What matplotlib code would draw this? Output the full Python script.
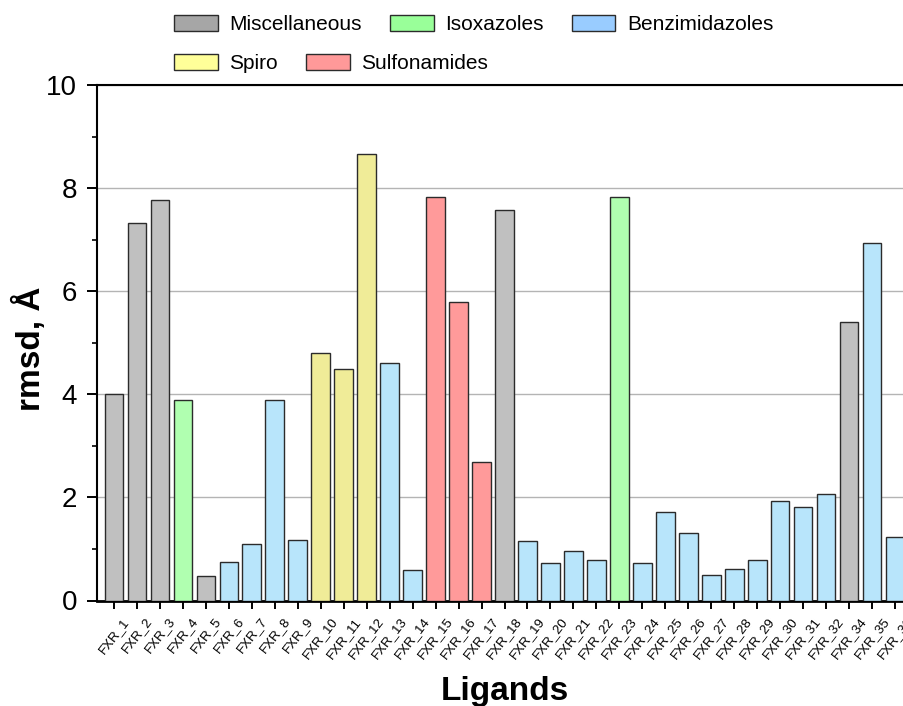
import numpy as np
import matplotlib
matplotlib.use('Agg')
import matplotlib.pyplot as plt
from matplotlib.patches import Patch
from matplotlib.ticker import MultipleLocator

plt.rcParams['font.family'] = ['Liberation Sans', 'DejaVu Sans']

ligands = ['FXR_1', 'FXR_2', 'FXR_3', 'FXR_4', 'FXR_5', 'FXR_6', 'FXR_7', 'FXR_8',
           'FXR_9', 'FXR_10', 'FXR_11', 'FXR_12', 'FXR_13', 'FXR_14', 'FXR_15',
           'FXR_16', 'FXR_17', 'FXR_18', 'FXR_19', 'FXR_20', 'FXR_21', 'FXR_22',
           'FXR_23', 'FXR_24', 'FXR_25', 'FXR_26', 'FXR_27', 'FXR_28', 'FXR_29',
           'FXR_30', 'FXR_31', 'FXR_32', 'FXR_34', 'FXR_35', 'FXR_36']
rmsd = [4.00, 7.32, 7.76, 3.88, 0.47, 0.74, 1.10, 3.88, 1.18, 4.81, 4.50, 8.67,
        4.61, 0.60, 7.82, 5.79, 2.69, 7.57, 1.16, 0.72, 0.96, 0.78, 7.82, 0.72,
        1.72, 1.31, 0.49, 0.61, 0.78, 1.93, 1.81, 2.06, 5.41, 6.93, 1.24]
group = ['M', 'M', 'M', 'I', 'M', 'B', 'B', 'B', 'B', 'S', 'S', 'S', 'B', 'B',
         'Su', 'Su', 'Su', 'M', 'B', 'B', 'B', 'B', 'I', 'B', 'B', 'B', 'B', 'B',
         'B', 'B', 'B', 'B', 'M', 'B', 'B']

group_names = {'M': 'Miscellaneous', 'I': 'Isoxazoles', 'B': 'Benzimidazoles',
               'S': 'Spiro', 'Su': 'Sulfonamides'}
bar_colors = {'M': '#c0c0c0', 'I': '#b0ffb0', 'B': '#b8e5fb', 'S': '#f0ec98', 'Su': '#ff9a9a'}
legend_colors = {'M': '#a6a6a6', 'I': '#99ff99', 'B': '#99ccff', 'S': '#ffff99', 'Su': '#ff9999'}

fig = plt.figure(figsize=(9.04, 7.06), dpi=100)
W, H = 904.0, 706.0
# axes runs past the right edge of the picture, like the original crop
ax = fig.add_axes([97 / W, 1 - 600.5 / H, 815 / W, 515.5 / H])

x = np.arange(len(ligands))
ax.bar(x, rmsd, width=0.8, color=[bar_colors[g] for g in group],
       edgecolor='#2b2b2b', linewidth=1.0, zorder=3)

ax.set_xlim(-0.73, len(ligands) - 1 + 0.73)
ax.set_ylim(0, 10)
ax.yaxis.set_major_locator(MultipleLocator(2))
ax.yaxis.set_minor_locator(MultipleLocator(1))
ax.set_xticks(x)
ax.set_xticklabels(ligands, rotation=52, ha='center', va='top', fontsize=9.5)

ax.grid(axis='y', color='#b4b4b4', linewidth=1.0, zorder=0)
ax.set_axisbelow(True)

ax.tick_params(axis='y', which='major', direction='out', length=7.2, width=1.4,
               labelsize=20, pad=7)
ax.tick_params(axis='y', which='minor', direction='out', length=3.6, width=1.2)
ax.tick_params(axis='x', which='major', direction='out', length=5.8, width=1.4, pad=5)

ax.spines['left'].set_linewidth(1.5)
ax.spines['bottom'].set_linewidth(2.0)
ax.spines['top'].set_linewidth(1.5)
ax.spines['right'].set_linewidth(1.5)

ax.set_ylabel('rmsd, Å', fontsize=24, fontweight='bold', va='center')
ax.yaxis.set_label_coords(-0.0823, 0.488)
ax.set_xlabel('Ligands', fontsize=24, fontweight='bold', va='baseline')
ax.xaxis.set_label_coords(0.5, -0.193)

row1 = ['M', 'I', 'B']
row2 = ['S', 'Su']
leg_kw = dict(frameon=False, fontsize=15, handlelength=2.1, handleheight=0.82,
              handletextpad=0.55, columnspacing=1.35, borderpad=0, borderaxespad=0,
              loc='upper left', bbox_transform=fig.transFigure)
h1 = [Patch(facecolor=legend_colors[k], edgecolor='#2b2b2b', linewidth=1.0) for k in row1]
h2 = [Patch(facecolor=legend_colors[k], edgecolor='#2b2b2b', linewidth=1.0) for k in row2]
leg1 = fig.legend(h1, [group_names[k] for k in row1], ncol=3,
                  bbox_to_anchor=(174 / W, 1 - 15 / H), **leg_kw)
leg2 = fig.legend(h2, [group_names[k] for k in row2], ncol=2,
                  bbox_to_anchor=(174 / W, 1 - 54 / H), **leg_kw)

fig.savefig('out.png', dpi=100)
